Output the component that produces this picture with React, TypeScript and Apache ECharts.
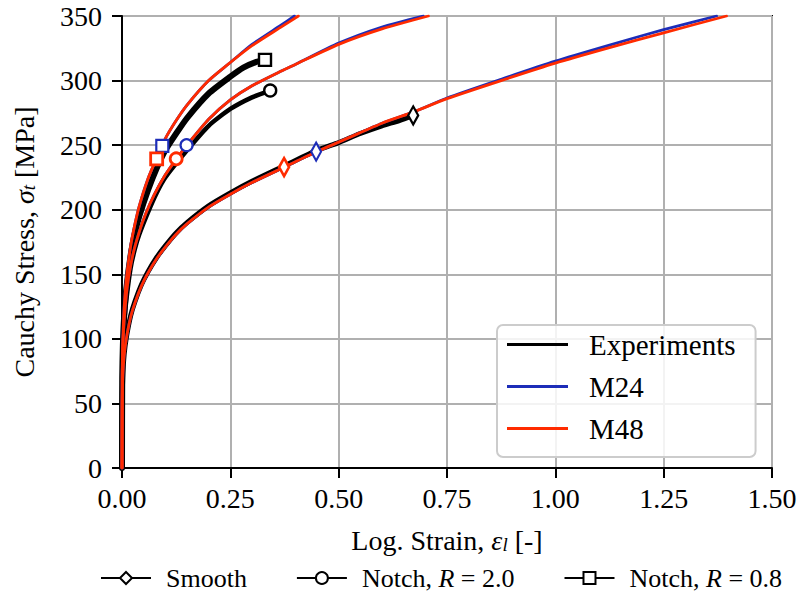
import React, { useEffect, useRef } from "react";
import * as echarts from "echarts";

// ---------- axis ticks ----------
const xTickValues = [0, 0.25, 0.5, 0.75, 1.0, 1.25, 1.5];
const yTickValues = [0, 50, 100, 150, 200, 250, 300, 350];

// ---------- Smooth specimen ----------
const smoothExpStrain = [0, 0.0005, 0.002, 0.005, 0.01, 0.02, 0.03, 0.045, 0.06, 0.08, 0.1, 0.125, 0.15, 0.2, 0.25, 0.3, 0.375, 0.45, 0.5, 0.55, 0.6, 0.64, 0.672];
const smoothExpStress = [0, 52, 73, 88, 101, 118, 129, 142, 152, 163, 172, 182, 190, 203, 213, 222, 234, 246, 252, 259, 265, 269, 273];
const smoothM24Strain = [0, 0.0005, 0.002, 0.005, 0.01, 0.02, 0.03, 0.045, 0.06, 0.08, 0.1, 0.125, 0.15, 0.2, 0.25, 0.3, 0.375, 0.45, 0.525, 0.6, 0.675, 0.75, 0.875, 1.0, 1.125, 1.25, 1.372];
const smoothM24Stress = [0, 50, 72, 87, 100, 117, 128, 141, 151, 162, 171, 181, 189, 202, 212, 221, 233, 245, 256, 267, 276, 286.5, 301, 315, 327.5, 339.5, 350];
const smoothM48Strain = [0, 0.0005, 0.002, 0.005, 0.01, 0.02, 0.03, 0.045, 0.06, 0.08, 0.1, 0.125, 0.15, 0.2, 0.25, 0.3, 0.375, 0.45, 0.525, 0.6, 0.675, 0.75, 0.875, 1.0, 1.125, 1.25, 1.395];
const smoothM48Stress = [0, 50, 72, 87, 100, 117, 128, 141, 151, 162, 171, 181, 189, 202, 212, 221, 233, 245, 256, 267, 276, 286, 300, 313.5, 325.5, 337, 350];

// ---------- Notch R = 2.0 ----------
const notch20ExpStrain = [0, 0.0005, 0.002, 0.005, 0.01, 0.02, 0.03, 0.04, 0.06, 0.08, 0.1, 0.15, 0.2, 0.25, 0.3, 0.342];
const notch20ExpStress = [0, 68, 92, 111, 130, 155, 170, 181, 198, 213, 225, 246, 265, 278, 287, 292.3];
const notch20M24Strain = [0, 0.0005, 0.002, 0.005, 0.01, 0.015, 0.025, 0.04, 0.055, 0.075, 0.1, 0.125, 0.15, 0.2, 0.25, 0.3, 0.365, 0.4, 0.5, 0.6, 0.695];
const notch20M24Stress = [0, 70, 95, 114, 134, 147, 165, 183, 197, 212, 227, 239, 250, 270, 285, 296, 307, 312.5, 329, 341.5, 350];
const notch20M48Strain = [0, 0.0005, 0.002, 0.005, 0.01, 0.015, 0.025, 0.04, 0.055, 0.075, 0.1, 0.125, 0.15, 0.2, 0.25, 0.3, 0.365, 0.4, 0.5, 0.6, 0.707];
const notch20M48Stress = [0, 70, 95, 114, 134, 147, 165, 183, 197, 212, 227, 239, 250, 270, 285, 296, 307, 312.5, 328, 340, 350];

// ---------- Notch R = 0.8 ----------
const notch08ExpStrain = [0, 0.0005, 0.002, 0.005, 0.01, 0.02, 0.03, 0.04, 0.06, 0.08, 0.1, 0.125, 0.15, 0.2, 0.25, 0.28, 0.31, 0.33];
const notch08ExpStress = [0, 70, 95, 118, 139, 165, 182, 195, 215, 232, 246, 259, 271, 290, 303, 310, 314.5, 316];
const notch08M24Strain = [0, 0.0005, 0.002, 0.005, 0.01, 0.02, 0.03, 0.04, 0.06, 0.08, 0.1, 0.125, 0.15, 0.2, 0.25, 0.3, 0.365, 0.398];
const notch08M24Stress = [0, 75, 99, 124, 146, 172, 189, 203, 224, 240, 255, 269, 281, 300, 314, 328, 342.5, 350];
const notch08M48Strain = [0, 0.0005, 0.002, 0.005, 0.01, 0.02, 0.03, 0.04, 0.06, 0.08, 0.1, 0.125, 0.15, 0.2, 0.25, 0.3, 0.365, 0.407];
const notch08M48Stress = [0, 75, 99, 124, 146, 172, 189, 203, 224, 240, 255, 269, 281, 300, 314, 327, 341, 350];

// ---------- failure / end points (Smooth, Notch 2.0, Notch 0.8) ----------
const specimenNames = ["Smooth", "Notch, R = 2.0", "Notch, R = 0.8"];
const expEndStrain = [0.672, 0.342, 0.33];
const expEndStress = [273, 292.3, 316];
const m24FailStrain = [0.448, 0.149, 0.093];
const m24FailStress = [245, 250, 249.5];
const m48FailStrain = [0.374, 0.125, 0.08];
const m48FailStress = [233, 239.4, 239.4];

// ---------- styles ----------
const FONT = "'Liberation Serif', 'DejaVu Serif', serif";
const BLUE = "#1d2db8";
const RED = "#ff2b00";
const BLACK = "#000000";
const THIN_DIAMOND = "path://M5,0L10,9L5,18L0,9Z";
const specimenSymbols = [THIN_DIAMOND, "circle", "rect"];
const specimenSizes: any[] = [[10, 18], 12, 12];

const pts = (xs: number[], ys: number[]) => xs.map((x, i) => [x, ys[i]]);

function lineSeries(name: string, xs: number[], ys: number[], color: string, width: number, z: number) {
  return {
    type: "line",
    name,
    data: pts(xs, ys),
    showSymbol: false,
    symbol: "none",
    smooth: 0.2,
    color,
    lineStyle: { color, width, join: "round", cap: "round" },
    z,
    silent: true,
  };
}

function markerSeries(name: string, xs: number[], ys: number[], color: string, bw: number, z: number) {
  return {
    type: "scatter",
    name,
    data: xs.map((x, i) => ({
      value: [x, ys[i]],
      symbol: specimenSymbols[i],
      symbolSize: specimenSizes[i],
    })),
    itemStyle: { color: "#ffffff", borderColor: color, borderWidth: bw, opacity: 1 },
    z,
    silent: true,
  };
}

function legendDummy(name: string, symbol: string) {
  return {
    type: "line",
    name,
    data: [],
    symbol,
    symbolKeepAspect: true,
    color: BLACK,
    itemStyle: { color: "#ffffff", borderColor: BLACK, borderWidth: 2.2 },
    lineStyle: { color: BLACK, width: 2.8 },
  };
}

const subRich = {
  n: { fontSize: 28, fontFamily: FONT, color: BLACK, lineHeight: 30, verticalAlign: "bottom" },
  it: { fontSize: 28, fontFamily: FONT, fontStyle: "italic", color: BLACK, lineHeight: 30, verticalAlign: "bottom" },
  sub: { fontSize: 19, fontFamily: FONT, fontStyle: "italic", color: BLACK, lineHeight: 11, verticalAlign: "bottom" },
};

export default function App() {
  const ref = useRef<HTMLDivElement>(null);
  useEffect(() => {
    if (!ref.current) return;
    const chart = echarts.init(ref.current, null, { renderer: "svg" });
    const option: any = {
      animation: false,
      backgroundColor: "#ffffff",
      grid: {
        left: 122,
        top: 16,
        right: 28,
        bottom: 124,
        show: true,
        borderColor: BLACK,
        borderWidth: 2,
        backgroundColor: "transparent",
      },
      xAxis: {
        type: "value",
        min: xTickValues[0],
        max: xTickValues[xTickValues.length - 1],
        interval: 0.25,
        axisLine: { show: true, onZero: false, lineStyle: { color: BLACK, width: 2 } },
        axisTick: { show: true, inside: false, length: 10, lineStyle: { color: BLACK, width: 2 } },
        axisLabel: {
          color: BLACK,
          fontSize: 28,
          fontFamily: FONT,
          margin: 16,
          formatter: (v: number) => v.toFixed(2),
        },
        splitLine: { show: true, lineStyle: { color: "#b0b0b0", width: 2 } },
        name: "{n|Log. Strain, }{it|ε}{sub|l}{n| [-]}",
        nameLocation: "middle",
        nameGap: 56,
        nameTextStyle: { fontSize: 28, fontFamily: FONT, color: BLACK, rich: subRich },
      },
      yAxis: {
        type: "value",
        min: yTickValues[0],
        max: yTickValues[yTickValues.length - 1],
        interval: 50,
        axisLine: { show: true, onZero: false, lineStyle: { color: BLACK, width: 2 } },
        axisTick: { show: true, inside: false, length: 10, lineStyle: { color: BLACK, width: 2 } },
        axisLabel: { color: BLACK, fontSize: 28, fontFamily: FONT, margin: 20 },
        splitLine: { show: true, lineStyle: { color: "#b0b0b0", width: 2 } },
        name: "{n|Cauchy Stress, }{it|σ}{sub|t}{n| [MPa]}",
        nameLocation: "middle",
        nameRotate: 90,
        nameGap: 84,
        nameTextStyle: { fontSize: 28, fontFamily: FONT, color: BLACK, rich: subRich },
      },
      legend: [
        {
          selectedMode: false,
          orient: "vertical",
          left: 497,
          top: 325,
          padding: [5, 20, 14, 10],
          itemGap: 13,
          itemWidth: 61,
          itemHeight: 3,
          backgroundColor: "rgba(255,255,255,0.85)",
          borderColor: "#cccccc",
          borderWidth: 2,
          borderRadius: 6,
          textStyle: { fontSize: 29, fontFamily: FONT, color: BLACK, lineHeight: 27, padding: [0, 0, 0, 16] },
          data: [
            { name: "Experiments", icon: "rect" },
            { name: "M24", icon: "rect" },
            { name: "M48", icon: "rect" },
          ],
        },
        {
          selectedMode: false,
          orient: "horizontal",
          left: 100,
          top: 565,
          padding: 0,
          itemGap: 49,
          itemWidth: 50,
          itemHeight: 15,
          textStyle: {
            fontSize: 26,
            fontFamily: FONT,
            color: BLACK,
            padding: [0, 0, 0, 10],
            rich: { it: { fontSize: 26, fontFamily: FONT, fontStyle: "italic", color: BLACK } },
          },
          formatter: (name: string) => name.replace("R", "{it|R}"),
          data: specimenNames,
        },
      ],
      series: [
        lineSeries("Experiments", smoothExpStrain, smoothExpStress, BLACK, 5, 2),
        lineSeries("Experiments", notch20ExpStrain, notch20ExpStress, BLACK, 4.5, 2),
        lineSeries("Experiments", notch08ExpStrain, notch08ExpStress, BLACK, 6, 2),
        lineSeries("M24", smoothM24Strain, smoothM24Stress, BLUE, 2.8, 3),
        lineSeries("M24", notch20M24Strain, notch20M24Stress, BLUE, 2.8, 3),
        lineSeries("M24", notch08M24Strain, notch08M24Stress, BLUE, 2.8, 3),
        lineSeries("M48", smoothM48Strain, smoothM48Stress, RED, 2.8, 4),
        lineSeries("M48", notch20M48Strain, notch20M48Stress, RED, 2.8, 4),
        lineSeries("M48", notch08M48Strain, notch08M48Stress, RED, 2.8, 4),
        markerSeries("Experiment end", expEndStrain, expEndStress, BLACK, 2.4, 5),
        markerSeries("M24 failure", m24FailStrain, m24FailStress, BLUE, 2.2, 6),
        markerSeries("M48 failure", m48FailStrain, m48FailStress, RED, 2.8, 7),
        legendDummy(specimenNames[0], THIN_DIAMOND),
        legendDummy(specimenNames[1], "circle"),
        legendDummy(specimenNames[2], "rect"),
      ],
    };
    chart.setOption(option);
    return () => chart.dispose();
  }, []);
  return (
    <div
      ref={ref}
      style={{ position: "fixed", left: 0, top: 0, width: 800, height: 592, background: "#ffffff" }}
    />
  );
}
